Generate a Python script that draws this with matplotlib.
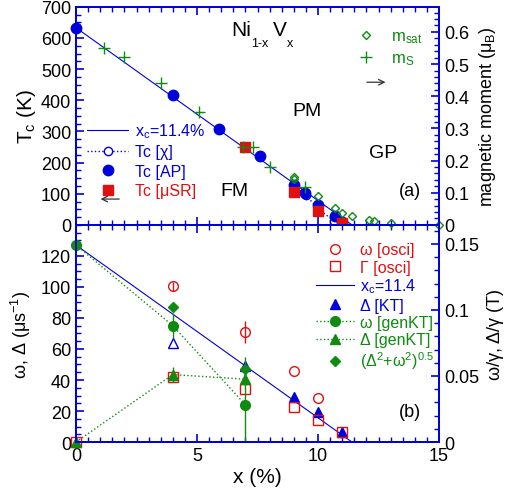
import matplotlib.pyplot as plt
from matplotlib.lines import Line2D
from matplotlib.ticker import MultipleLocator

plt.rcParams['font.family'] = ['Liberation Sans', 'DejaVu Sans']
plt.rcParams['mathtext.default'] = 'regular'

BLUE = '#0000dd'
RED = '#e01010'
GREEN = '#108a10'

# ---- panel (a) data ----
x_ap = [0, 4, 5.9, 7.6, 9.0, 9.45, 10.0, 10.7, 11.0]
tc_ap = [633, 417, 308, 221, 129, 103, 65, 28, 10]
x_chi = [9.0, 9.5, 10.0, 10.65]
tc_chi = [125, 95, 52, 13]
x_musr = [7.0, 9.0, 10.0, 11.0]
tc_musr = [250, 105, 45, 6]
x_ms = [1.15, 2.0, 3.5, 5.1, 6.9, 7.3, 8.0, 9.45]
m_s = [0.550, 0.522, 0.441, 0.351, 0.242, 0.242, 0.180, 0.118]
x_msat = [9.0, 9.0, 10.0, 10.7, 11.0, 11.4, 12.1, 12.3, 13.0, 15.0]
m_sat = [0.150, 0.142, 0.090, 0.053, 0.037, 0.028, 0.016, 0.012, 0.006, 0.0]
xc_a = [0, 11.4]
tc_line = [633, 0]

# ---- panel (b) data ----
x_wosc = [4, 7, 9, 10]
w_osc = [100.5, 71, 46, 28.5]
w_osc_err = [3, 7, 0, 0]
x_gosc = [0, 4, 7, 9, 10, 11]
g_osc = [0, 42, 34, 22.5, 14.5, 6.5]
x_kt = [7, 9, 10, 11]
d_kt = [49, 29, 19.5, 6.5]
x_kt_open = [4]
d_kt_open = [64]
x_gen = [0, 4, 7]
w_gen = [127, 75, 24]
w_gen_err = [0, 8, 24]
d_gen = [0, 43.5, 40.5]
d_gen_err = [0, 5, 0]
x_tot = [0, 4, 7]
tot = [127, 87, 47]
tot_err = [0, 0, 8]
xc_b = [0, 11.4]
b_line = [127, 0]

gamma_mu = 851.6  # us^-1 per T

fig = plt.figure(figsize=(5.10, 4.89), dpi=100)
ax1 = fig.add_axes([0.149, 0.538, 0.712, 0.446])
ax2 = fig.add_axes([0.149, 0.094, 0.712, 0.444], sharex=ax1)
ax1r = ax1.twinx()
ax2r = ax2.twinx()

for a in (ax1, ax2, ax1r, ax2r):
    for s in a.spines.values():
        s.set_color(BLUE)
        s.set_linewidth(1.3)
    a.tick_params(which='both', direction='in', color=BLUE, labelsize=13)
    a.tick_params(which='major', length=6, width=1.2)
    a.tick_params(which='minor', length=3.5, width=1.0)
for a in (ax1, ax2):
    a.tick_params(which='both', top=True, right=False)
    a.xaxis.set_major_locator(MultipleLocator(5))
    a.xaxis.set_minor_locator(MultipleLocator(0.5))

# ---- panel (a) ----
ax1.plot(xc_a, tc_line, '-', color=BLUE, lw=0.8)
ax1.plot(x_chi, tc_chi, ':', color=BLUE, lw=1, marker='o', mfc='white', mec=BLUE, ms=6)
ax1.plot(x_ap, tc_ap, 'o', color=BLUE, ms=7.5, clip_on=False, zorder=4)
ax1.plot(x_musr, tc_musr, 's', color=RED, ms=7, clip_on=False, zorder=5)
ax1r.plot(x_ms, m_s, '+', color=GREEN, ms=9, mew=1)
ax1r.plot(x_msat, m_sat, 'D', mfc='none', mec=GREEN, ms=4.5, mew=1, clip_on=False)

ax1.set_xlim(0, 15)
ax1.set_ylim(0, 700)
ax1.yaxis.set_major_locator(MultipleLocator(100))
ax1.yaxis.set_minor_locator(MultipleLocator(25))
ax1r.set_ylim(0, 0.678)
ax1r.yaxis.set_minor_locator(MultipleLocator(0.02))
ax1r.set_yticks([0, 0.1, 0.2, 0.3, 0.4, 0.5, 0.6], ['0', '0.1', '0.2', '0.3', '0.4', '0.5', '0.6'])
ax1.tick_params(labelbottom=False)
ax1.set_ylabel(r'T$_c$ (K)', fontsize=15, labelpad=2)
ax1r.set_ylabel(r'magnetic moment ($\mu_B$)', fontsize=13, labelpad=6)

# Ni_{1-x}V_x, built piece by piece so the subscript keeps a hyphen
for s, dx, dy, fs in [('Ni', 0, 0, 15), ('1-x', 14.5, -8, 9), ('V', 30, 0, 15), ('x', 40, -8, 9)]:
    ax1.annotate(s, xy=(6.4, 610), xytext=(dx, dy), textcoords='offset points',
                 fontsize=fs, va='baseline', ha='left')
ax1.text(9.55, 366, 'PM', fontsize=14, ha='center', va='center')
ax1.text(6.55, 109, 'FM', fontsize=14, ha='center', va='center')
ax1.text(12.7, 232, 'GP', fontsize=14, ha='center', va='center')
ax1.text(13.8, 109, '(a)', fontsize=13, ha='center', va='center')
ax1.annotate('', xy=(0.9, 83), xytext=(1.9, 83),
             arrowprops=dict(arrowstyle='->', color='#333333', lw=0.9))
ax1.annotate('', xy=(12.9, 458), xytext=(11.9, 458),
             arrowprops=dict(arrowstyle='->', color='#333333', lw=0.9))

h1 = [Line2D([], [], color=BLUE, lw=0.8),
      Line2D([], [], color=BLUE, ls=':', lw=1, marker='o', mfc='white', mec=BLUE, ms=6),
      Line2D([], [], color=BLUE, ls='none', marker='o', ms=7.5),
      Line2D([], [], color=RED, ls='none', marker='s', ms=7)]
leg1 = ax1.legend(h1, [r'x$_c$=11.4%', 'Tc [χ]', 'Tc [AP]', 'Tc [μSR]'],
                  loc='upper left', bbox_to_anchor=(0.03, 0.475), frameon=False,
                  fontsize=11.5, handlelength=2.6, handletextpad=0.4,
                  labelspacing=0.28, borderpad=0, borderaxespad=0)
for t, c in zip(leg1.get_texts(), [BLUE, BLUE, BLUE, RED]):
    t.set_color(c)

h1r = [Line2D([], [], ls='none', marker='D', mfc='none', mec=GREEN, ms=4.5, mew=1),
       Line2D([], [], ls='none', marker='+', color=GREEN, ms=9, mew=1)]
leg1r = ax1r.legend(h1r, [r'm$_{sat}$', r'm$_S$'], loc='upper left',
                    bbox_to_anchor=(0.775, 0.90), frameon=False, fontsize=12,
                    handlelength=1.0, handletextpad=1.0, labelspacing=0.3,
                    borderpad=0, borderaxespad=0)
for t in leg1r.get_texts():
    t.set_color(GREEN)

# ---- panel (b) ----
ax2.plot(xc_b, b_line, '-', color=BLUE, lw=0.8)
ax2.plot(x_gen, w_gen, ':', color=GREEN, lw=1)
ax2.plot(x_gen, d_gen, ':', color=GREEN, lw=1)
ax2.errorbar(x_gen, w_gen, yerr=w_gen_err, fmt='o', color=GREEN, ms=7, elinewidth=1,
             capsize=0, clip_on=False, zorder=4)
ax2.errorbar(x_gen, d_gen, yerr=d_gen_err, fmt='^', color=GREEN, ms=7, elinewidth=1,
             capsize=0, clip_on=False, zorder=4)
ax2.errorbar(x_tot, tot, yerr=tot_err, fmt='D', color=GREEN, ms=5.5, elinewidth=1,
             capsize=0, clip_on=False, zorder=4)
ax2.errorbar(x_wosc, w_osc, yerr=w_osc_err, fmt='o', mfc='none', mec=RED, ecolor=RED,
             ms=7, mew=1, elinewidth=1, capsize=0)
ax2.plot(x_gosc, g_osc, 's', mfc='none', mec=RED, ms=7.5, mew=1, clip_on=False, zorder=3)
ax2.plot(x_kt, d_kt, '^', color=BLUE, ms=7)
ax2.plot(x_kt_open, d_kt_open, '^', mfc='none', mec=BLUE, ms=6.5, mew=1)

ax2.set_xlim(0, 15)
ax2.set_ylim(0, 140)
ax2.yaxis.set_minor_locator(MultipleLocator(5))
ax2.set_yticks([0, 20, 40, 60, 80, 100, 120])
ax2r.set_ylim(0, 140 / gamma_mu)
ax2r.set_yticks([0, 0.05, 0.1, 0.15], ['0', '0.05', '0.1', '0.15'])
ax2r.yaxis.set_minor_locator(MultipleLocator(0.01))
ax2.set_xticks([0, 5, 10, 15], ['0', '5', '10', '15'])
ax2.set_xlabel('x (%)', fontsize=15, labelpad=2)
ax2.set_ylabel(r'ω, Δ (μs$^{-1}$)', fontsize=13, labelpad=6)
ax2r.set_ylabel('ω/γ, Δ/γ (T)', fontsize=13, labelpad=6)
ax2.text(13.8, 19.5, '(b)', fontsize=13, ha='center', va='center')

h2 = [Line2D([], [], ls='none', marker='o', mfc='none', mec=RED, ms=7, mew=1),
      Line2D([], [], ls='none', marker='s', mfc='none', mec=RED, ms=7.5, mew=1),
      Line2D([], [], color=BLUE, lw=0.8),
      Line2D([], [], ls='none', marker='^', color=BLUE, ms=7),
      Line2D([], [], ls=':', lw=1, marker='o', color=GREEN, ms=7),
      Line2D([], [], ls=':', lw=1, marker='^', color=GREEN, ms=7),
      Line2D([], [], ls='none', marker='D', color=GREEN, ms=5.5)]
lab2 = ['ω [osci]', 'Γ [osci]', r'x$_c$=11.4', 'Δ [KT]', 'ω [genKT]', 'Δ [genKT]',
        r'(Δ$^2$+ω$^2$)$^{0.5}$']
leg2 = ax2.legend(h2, lab2, loc='upper left', bbox_to_anchor=(0.66, 0.92), frameon=False,
                  fontsize=11.5, handlelength=2.4, handletextpad=0.4,
                  labelspacing=0.14, borderpad=0, borderaxespad=0)
for t, c in zip(leg2.get_texts(), [RED, RED, BLUE, BLUE, GREEN, GREEN, GREEN]):
    t.set_color(c)

fig.savefig('out.png', dpi=100)
